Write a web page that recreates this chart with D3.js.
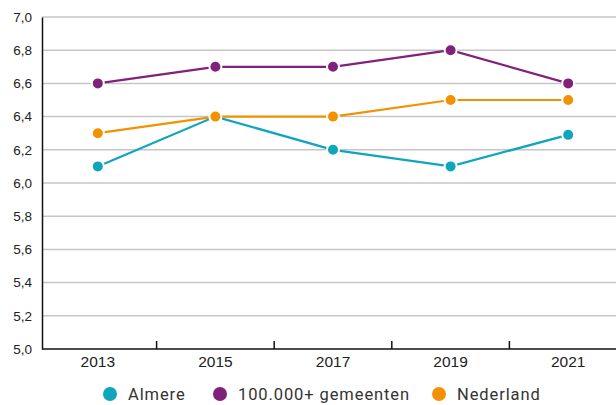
<!DOCTYPE html>
<html>
<head>
<meta charset="utf-8">
<script src="https://cdn.jsdelivr.net/npm/d3@7"></script>
<style>
  body { margin: 0; background: #fff; }
  svg { display: block; font-family: Roboto, "Noto Sans", sans-serif; }
</style>
</head>
<body>
<div class="chart"></div>
<script>
const width = 616
const height = 405

const years = ['2013', '2015', '2017', '2019', '2021']
const almere = [6.1, 6.4, 6.2, 6.1, 6.29]
const grote = [6.6, 6.7, 6.7, 6.8, 6.6]
const nederland = [6.3, 6.4, 6.4, 6.5, 6.5]
const yTicks = [5.0, 5.2, 5.4, 5.6, 5.8, 6.0, 6.2, 6.4, 6.6, 6.8, 7.0]

const series = [
  {name: 'Almere', values: almere, color: '#0ea5bd'},
  {name: '100.000+ gemeenten', values: grote, color: '#80217b'},
  {name: 'Nederland', values: nederland, color: '#f39200'}
]

const svg = d3.select('.chart')
  .append('svg')
  .attr('width', width)
  .attr('height', height)

const x = d3.scaleBand()
  .domain(years)
  .range([39, 627])

const y = d3.scaleLinear()
  .domain([5, 7])
  .range([349, 17])

// gridlines
svg.append('g')
  .selectAll('line')
  .data(yTicks.slice(1))
  .enter().append('line')
    .attr('x1', 42)
    .attr('x2', width)
    .attr('y1', d => y(d))
    .attr('y2', d => y(d))
    .attr('stroke', '#c6c6c6')
    .attr('stroke-width', 1.5)

// y axis
const yAxis = svg.append('g')
  .attr('transform', 'translate(42,0)')
  .call(d3.axisLeft(y).tickValues(yTicks).tickSize(0).tickPadding(10)
    .tickFormat(d => d3.format('.1f')(d).replace('.', ',')))
yAxis.select('.domain').attr('stroke', '#111').attr('stroke-width', 1.5)
yAxis.selectAll('text').attr('font-size', 13.5).attr('fill', '#222')

// x axis
const xAxis = svg.append('g')
  .attr('transform', 'translate(0,349)')
  .call(d3.axisBottom(x).tickSize(0).tickPadding(7))
xAxis.select('.domain').attr('d', `M42,0H${width}`).attr('stroke', '#111').attr('stroke-width', 1.5)
xAxis.selectAll('text').attr('font-size', 15.5).attr('fill', '#222')

// tick marks between categories
xAxis.append('g')
  .selectAll('line')
  .data(years.slice(1))
  .enter().append('line')
    .attr('x1', d => x(d))
    .attr('x2', d => x(d))
    .attr('y1', 0)
    .attr('y2', -8)
    .attr('stroke', '#111')
    .attr('stroke-width', 1.5)

const cx = i => x(years[i]) + x.bandwidth() / 2

const line = d3.line()
  .x((d, i) => cx(i))
  .y(d => y(d))

const groups = svg.append('g')
  .selectAll('g')
  .data(series)
  .enter().append('g')

groups.append('path')
  .attr('d', d => line(d.values))
  .attr('fill', 'none')
  .attr('stroke', d => d.color)
  .attr('stroke-width', 2.2)

groups.selectAll('circle')
  .data(d => d.values.map(v => ({v, color: d.color})))
  .enter().append('circle')
    .attr('cx', (d, i) => cx(i))
    .attr('cy', d => y(d.v))
    .attr('r', 6)
    .attr('fill', d => d.color)
    .attr('stroke', '#fff')
    .attr('stroke-width', 2)

// legend
const legendX = [110, 220, 439]
const legend = svg.append('g')
  .selectAll('g')
  .data(series)
  .enter().append('g')
    .attr('transform', (d, i) => `translate(${legendX[i]},394)`)

legend.append('circle')
  .attr('r', 7)
  .attr('fill', d => d.color)

legend.append('text')
  .attr('x', 18)
  .attr('dy', '0.35em')
  .attr('font-size', 16.5)
  .attr('fill', '#333')
  .attr('letter-spacing', 0.9)
  .text(d => d.name)
</script>
</body>
</html>
